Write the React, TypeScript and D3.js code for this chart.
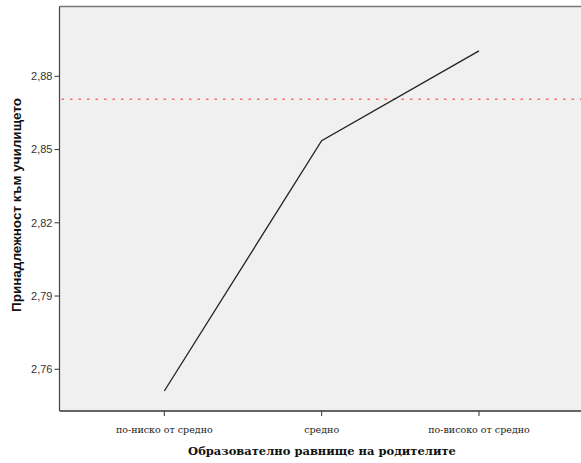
import React from "react";
import * as d3 from "d3";

const categories = ["по-ниско от средно", "средно", "по-високо от средно"];
const values = [2.7511, 2.8536, 2.8904];
const refValue = 2.8706;
const yTicks = [2.76, 2.79, 2.82, 2.85, 2.88];
const xTitle = "Образователно равнище на родителите";
const yTitle = "Принадлежност към училището";

export default function App() {
  const W = 581, H = 463;
  const left = 59.5, right = 584, top = 6.5, bottom = 411;
  const x = d3.scalePoint<string>().domain(categories).range([164.3, 479]);
  const y = d3.scaleLinear().domain([2.7429, 2.9086]).range([bottom, top]);
  const line = d3.line<number>().x((_, i) => x(categories[i])!).y((d) => y(d));
  const fmt = (v: number) => v.toFixed(2).replace(".", ",");
  return (
    <svg width={W} height={H} style={{ position: "absolute", left: 0, top: 0, background: "#fff" }}>
      <rect x={left} y={top} width={right - left} height={bottom - top} fill="#f0f0f0" />
      <line x1={left} x2={right} y1={top} y2={top} stroke="#777" strokeWidth={1.5} />
      <line x1={left} x2={right} y1={bottom} y2={bottom} stroke="#333" strokeWidth={1.5} />
      <line x1={left} x2={left} y1={top} y2={bottom} stroke="#444" strokeWidth={1.2} />
      <line x1={left + 2} x2={right} y1={y(refValue)} y2={y(refValue)} stroke="#ff6a6a" strokeWidth={1.5} strokeDasharray="2.5,6" />
      <path d={line(values)!} fill="none" stroke="#222" strokeWidth={1.3} />
      {yTicks.map((t) => (
        <g key={t}>
          <line x1={left - 5} x2={left} y1={y(t)} y2={y(t)} stroke="#333" />
          <text x={left - 7} y={y(t)} dy="0.35em" textAnchor="end" fontFamily="Liberation Sans, Arial, sans-serif" fontSize={11} fill="#333">{fmt(t)}</text>
        </g>
      ))}
      {categories.map((c) => (
        <g key={c}>
          <line x1={x(c)} x2={x(c)} y1={bottom} y2={bottom + 5} stroke="#333" />
          <text x={x(c)} y={433} textAnchor="middle" fontFamily="DejaVu Serif, serif" fontSize={9.5} fill="#222">{c}</text>
        </g>
      ))}
      <text x={322} y={455} textAnchor="middle" fontFamily="DejaVu Serif, serif" fontWeight="bold" fontSize={11.5} fill="#111">{xTitle}</text>
      <text transform={`translate(21,205) rotate(-90)`} textAnchor="middle" fontFamily="Liberation Sans, Arial, sans-serif" fontWeight="bold" fontSize={13.5} fill="#111">{yTitle}</text>
    </svg>
  );
}
